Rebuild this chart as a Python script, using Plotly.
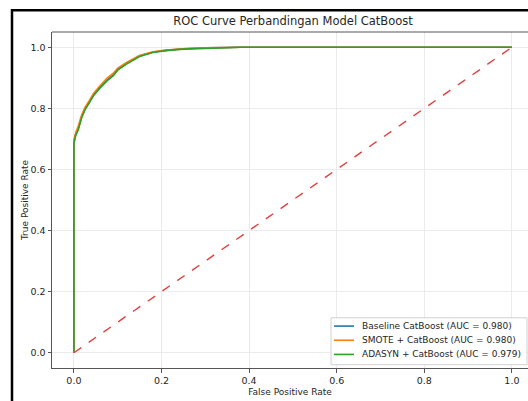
import plotly.graph_objects as go

# ROC data
fpr_base = [0.0, 0.0, 0.0, 0.004, 0.01, 0.018, 0.026, 0.035, 0.045, 0.06, 0.075, 0.09, 0.1, 0.12, 0.15, 0.18, 0.21, 0.25, 0.3, 0.38, 0.5, 0.7, 1.0]
tpr_base = [0.0, 0.68, 0.69, 0.715, 0.735, 0.775, 0.80, 0.82, 0.845, 0.87, 0.892, 0.91, 0.928, 0.948, 0.972, 0.984, 0.99, 0.995, 0.998, 1.0, 1.0, 1.0, 1.0]

fpr_smote = [0.0, 0.0, 0.0, 0.004, 0.01, 0.018, 0.026, 0.035, 0.045, 0.06, 0.075, 0.09, 0.1, 0.12, 0.15, 0.18, 0.21, 0.25, 0.3, 0.38, 0.5, 0.7, 1.0]
tpr_smote = [0.0, 0.68, 0.695, 0.72, 0.742, 0.78, 0.805, 0.825, 0.85, 0.875, 0.898, 0.915, 0.932, 0.95, 0.973, 0.985, 0.991, 0.995, 0.998, 1.0, 1.0, 1.0, 1.0]

fpr_adasyn = [0.0, 0.0, 0.0, 0.004, 0.01, 0.018, 0.026, 0.035, 0.045, 0.06, 0.075, 0.09, 0.1, 0.12, 0.15, 0.18, 0.21, 0.25, 0.3, 0.38, 0.5, 0.7, 1.0]
tpr_adasyn = [0.0, 0.675, 0.685, 0.71, 0.73, 0.77, 0.797, 0.818, 0.842, 0.867, 0.889, 0.907, 0.925, 0.945, 0.97, 0.983, 0.989, 0.994, 0.997, 1.0, 1.0, 1.0, 1.0]

names = ["Baseline CatBoost (AUC = 0.980)", "SMOTE + CatBoost (AUC = 0.980)", "ADASYN + CatBoost (AUC = 0.979)"]
colors = ["#1f77b4", "#ff7f0e", "#2ca02c"]
diag_x = [0, 1]
diag_y = [0, 1]

x_ticks = [0.0, 0.2, 0.4, 0.6, 0.8, 1.0]
y_ticks = [0.0, 0.2, 0.4, 0.6, 0.8, 1.0]

# plot-area geometry in pixels
L, R, T, B = 52, 528, 31.7, 368.3
W, H = R - L, B - T


def px(x):
    return (x - L) / W


def py(y):
    return (B - y) / H


fig = go.Figure()
for fx, ty, nm, c in zip([fpr_base, fpr_smote, fpr_adasyn], [tpr_base, tpr_smote, tpr_adasyn], names, colors):
    fig.add_trace(go.Scatter(x=fx, y=ty, mode="lines", name=nm, showlegend=False,
                             line=dict(color=c, width=1.6)))
fig.add_trace(go.Scatter(x=diag_x, y=diag_y, mode="lines", showlegend=False,
                         line=dict(color="#e04040", width=1.4, dash="dash")))

font_family = "DejaVu Sans"
fig.update_layout(
    width=528, height=401,
    margin=dict(l=L, r=528 - R, t=T, b=401 - B, autoexpand=False),
    paper_bgcolor="white", plot_bgcolor="white",
    font=dict(family=font_family, size=9, color="#262626"),
    title=dict(text="ROC Curve Perbandingan Model CatBoost", x=(293 / 528), xanchor="center",
               y=1 - 21 / 401, yanchor="middle", font=dict(size=11.5, color="#262626")),
    showlegend=False,
    xaxis=dict(range=[-0.05, 1.0368], tickvals=x_ticks, ticktext=[f"{v:.1f}" for v in x_ticks],
               showgrid=True, gridcolor="#ebebeb", gridwidth=0.8, zeroline=False,
               showline=True, linecolor="#555555", linewidth=1, mirror=False,
               ticks="outside", ticklen=3.5, tickcolor="#555555", automargin=False,
               tickfont=dict(size=9.5),
               title=dict(text="False Positive Rate", standoff=3, font=dict(size=9))),
    yaxis=dict(range=[-0.05, 1.05], tickvals=y_ticks, ticktext=[f"{v:.1f}" for v in y_ticks],
               showgrid=True, gridcolor="#ebebeb", gridwidth=0.8, zeroline=False,
               showline=True, linecolor="#555555", linewidth=1, mirror=False,
               ticks="outside", ticklen=3.5, tickcolor="#555555", automargin=False,
               tickfont=dict(size=9.5),
               title=dict(text="True Positive Rate", standoff=0, font=dict(size=9))),
)

# top border of axes area (matplotlib spine)
fig.add_shape(type="line", xref="paper", yref="paper", x0=0, x1=1, y0=1, y1=1,
              line=dict(color="#555555", width=1))

# legend drawn by hand (matplotlib style)
fig.add_shape(type="rect", xref="paper", yref="paper",
              x0=px(331), x1=px(527), y0=py(365), y1=py(318),
              line=dict(color="#d0d0d0", width=1), fillcolor="rgba(255,255,255,0.85)", layer="above")
for i, (nm, c) in enumerate(zip(names, colors)):
    yy = 326.3 + i * 14.2
    fig.add_shape(type="line", xref="paper", yref="paper",
                  x0=px(334), x1=px(354), y0=py(yy), y1=py(yy),
                  line=dict(color=c, width=1.6), layer="above")
    fig.add_annotation(xref="paper", yref="paper", x=px(360), y=py(yy), text=nm,
                       showarrow=False, xanchor="left", yanchor="middle",
                       font=dict(size=9, color="#262626"))

# outer black frame of the image
fig.add_shape(type="rect", xref="paper", yref="paper",
              x0=px(12), x1=1.2, y0=-0.3, y1=py(10),
              line=dict(color="black", width=2.5), fillcolor="rgba(0,0,0,0)", layer="above")

fig.write_html("out.html", config={"displayModeBar": False},
               post_script="document.body.style.margin='0';document.body.style.overflow='hidden';")
